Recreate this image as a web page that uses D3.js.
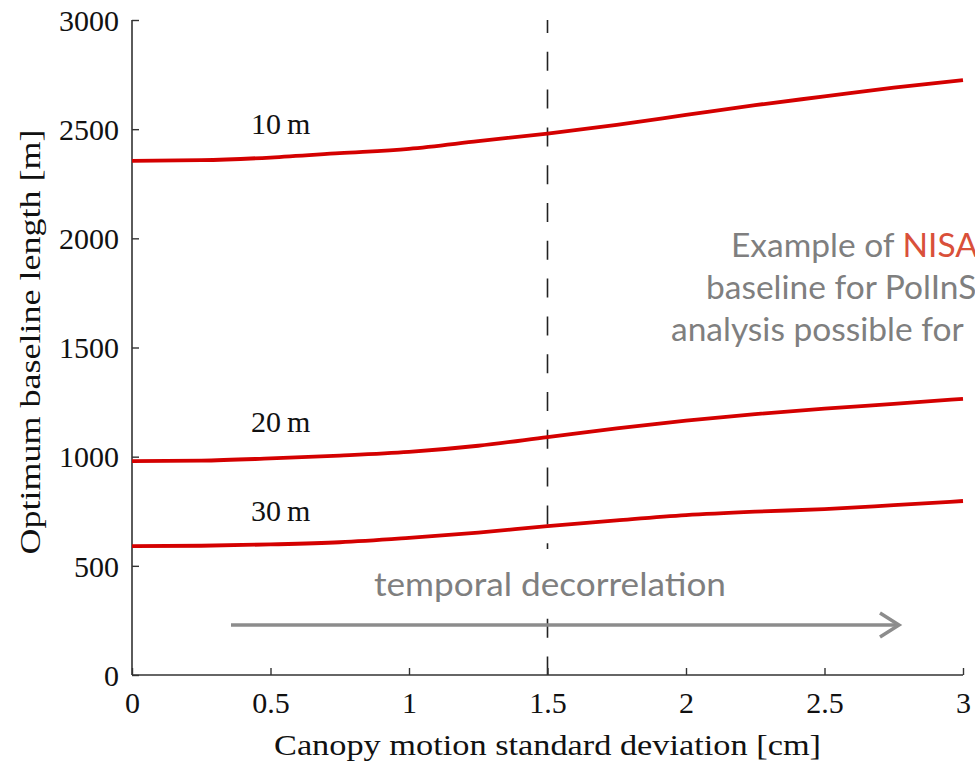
<!DOCTYPE html>
<html><head><meta charset="utf-8">
<script src="https://cdn.jsdelivr.net/npm/d3@7"></script>
<style>html,body{margin:0;padding:0;background:#fff;}svg{display:block;}</style>
</head><body>
<svg id="chart" width="975" height="763"></svg>
<script>
const xValues = [0, 0.25, 0.5, 0.75, 1.0, 1.25, 1.5, 1.75, 2.0, 2.25, 2.5, 2.75, 3.0];
const series10m = [2355, 2358, 2370, 2390, 2410, 2445, 2480, 2520, 2565, 2610, 2650, 2690, 2725];
const series20m = [980, 982, 992, 1005, 1022, 1050, 1090, 1130, 1165, 1195, 1220, 1242, 1265];
const series30m = [590, 592, 598, 608, 628, 652, 682, 708, 732, 748, 760, 778, 797];
const seriesNames = ["10\u2009m", "20\u2009m", "30\u2009m"];
const xTicks = [0, 0.5, 1, 1.5, 2, 2.5, 3];
const yTicks = [0, 500, 1000, 1500, 2000, 2500, 3000];
const markerX = 1.5;

const svg = d3.select("#chart");
const x = d3.scaleLinear().domain([0, 3]).range([132, 963]);
const y = d3.scaleLinear().domain([0, 3000]).range([675, 20]);
const serif = "'Liberation Serif', 'Times New Roman', serif";
const sans = "Lato, 'Open Sans', sans-serif";

// dashed marker line
svg.append("line")
  .attr("x1", x(markerX)).attr("x2", x(markerX))
  .attr("y1", y(3000)).attr("y2", y(0))
  .attr("stroke", "#222").attr("stroke-width", 1.6)
  .attr("stroke-dasharray", "19 18.8").attr("stroke-dashoffset", 6);

// axes
const xAxis = d3.axisBottom(x).tickValues(xTicks).tickSize(-7).tickPadding(17)
  .tickFormat(d => String(d));
const yAxis = d3.axisLeft(y).tickValues(yTicks).tickSize(-7).tickPadding(13)
  .tickFormat(d => String(d));

const gx = svg.append("g").attr("transform", `translate(0,${y(0)})`).call(xAxis);
const gy = svg.append("g").attr("transform", `translate(${x(0)},0)`).call(yAxis);
[gx, gy].forEach(g => {
  g.select(".domain").attr("stroke", "#333").attr("stroke-width", 1.6);
  g.selectAll(".tick line").attr("stroke", "#333").attr("stroke-width", 1.4);
  g.selectAll(".tick text").attr("fill", "#111").style("font-family", serif).style("font-size", "30px");
});
gy.select(".domain").attr("d", `M0,${y(3000)}V${y(0)}`);
gx.select(".domain").attr("d", `M${x(0)},0H${x(3)}`);
gx.selectAll(".tick text").attr("dy", "0.71em");
gy.selectAll(".tick text").attr("dy", "0.34em");

// series lines
const line = d3.line().x((d, i) => x(xValues[i])).y(d => y(d)).curve(d3.curveMonotoneX);
[series10m, series20m, series30m].forEach(s => {
  svg.append("path").datum(s).attr("d", line)
    .attr("fill", "none").attr("stroke", "#d40000").attr("stroke-width", 3.8)
    .attr("stroke-linecap", "butt");
});

// series labels
const labelPos = [[0.43, 2480], [0.43, 1115], [0.43, 707]];
seriesNames.forEach((n, i) => {
  svg.append("text").attr("x", x(labelPos[i][0])).attr("y", y(labelPos[i][1]))
    .text(n).style("font-family", serif).style("font-size", "30px").attr("fill", "#111");
});

// axis titles
svg.append("text").attr("x", x(1.5)).attr("y", 755).attr("text-anchor", "middle")
  .attr("textLength", 547).attr("lengthAdjust", "spacingAndGlyphs")
  .style("font-family", serif).style("font-size", "30px").attr("fill", "#111")
  .text("Canopy motion standard deviation [cm]");
svg.append("text").attr("transform", `translate(40,${342}) rotate(-90)`).attr("text-anchor", "middle")
  .attr("textLength", 425).attr("lengthAdjust", "spacingAndGlyphs")
  .style("font-family", serif).style("font-size", "30px").attr("fill", "#111")
  .text("Optimum baseline length [m]");

// temporal decorrelation annotation
svg.append("rect").attr("x", 370).attr("y", 549).attr("width", 362).attr("height", 66).attr("fill", "#fff");
svg.append("text").attr("x", 374).attr("y", 596)
  .attr("textLength", 352).attr("lengthAdjust", "spacingAndGlyphs")
  .style("font-family", sans).style("font-size", "33px").attr("fill", "#7f7f7f")
  .text("temporal decorrelation");
svg.append("line").attr("x1", 231).attr("x2", 898).attr("y1", 625).attr("y2", 625)
  .attr("stroke", "#8c8c8c").attr("stroke-width", 3.5);
svg.append("path").attr("d", "M880,613L899,625L880,637")
  .attr("fill", "none").attr("stroke", "#8c8c8c").attr("stroke-width", 3.5)
  .attr("stroke-linejoin", "miter");

// NISAR note (cut by the right edge, as in the original)
const note = svg.append("g").style("font-family", sans).style("font-size", "33.5px").attr("fill", "#7f7f7f");
const t1 = note.append("text").attr("x", 731).attr("y", 257);
t1.append("tspan").text("Example of ");
t1.append("tspan").attr("fill", "#d9503a").text("NISAR");
note.append("text").attr("x", 706).attr("y", 299).text("baseline for PolInSAR");
note.append("text").attr("x", 671).attr("y", 341).text("analysis possible for");
</script>
</body></html>
